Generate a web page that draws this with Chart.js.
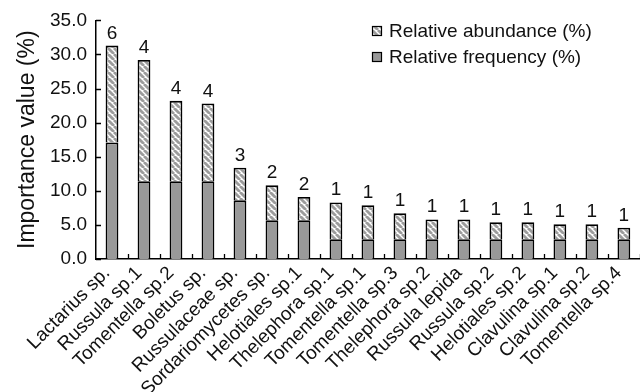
<!DOCTYPE html>
<html>
<head>
<meta charset="utf-8">
<script src="https://cdn.jsdelivr.net/npm/chart.js@4"></script>
<style>
  html, body { margin: 0; padding: 0; background: #fff; overflow: hidden; }
  #wrap { width: 643px; height: 392px; }
</style>
</head>
<body>
<div id="wrap"><canvas id="chart"></canvas></div>
<script>
const species = ['Lactarius sp.', 'Russula sp.1', 'Tomentella sp.2', 'Boletus sp.', 'Russulaceae sp.',
  'Sordariomycetes sp.', 'Helotiales sp.1', 'Thelephora sp.1', 'Tomentella sp.1', 'Tomentella sp.3',
  'Thelephora sp.2', 'Russula lepida', 'Russula sp.2', 'Helotiales sp.2', 'Clavulina sp.1',
  'Clavulina sp.2', 'Tomentella sp.4'];
const relFrequency = [17.1, 11.4, 11.4, 11.4, 8.6, 5.7, 5.7, 2.9, 2.9, 2.9, 2.9, 2.9, 2.9, 2.9, 2.9, 2.9, 2.9];
const relAbundance = [14.2, 17.8, 11.8, 11.4, 4.8, 5.1, 3.4, 5.4, 5.0, 3.8, 2.9, 2.9, 2.5, 2.5, 2.2, 2.2, 1.7];
const counts = [6, 4, 4, 4, 3, 2, 2, 1, 1, 1, 1, 1, 1, 1, 1, 1, 1];
const yTicks = [0, 5, 10, 15, 20, 25, 30, 35];

const FONT = 'Liberation Sans, Arial, Helvetica, sans-serif';
const GRAY = '#999999';

// diagonal hatch for the abundance part
function makeHatch() {
    const s = 6;
    const c = document.createElement('canvas');
    c.width = s; c.height = s;
    const g = c.getContext('2d');
    g.fillStyle = '#fff';
    g.fillRect(0, 0, s, s);
    g.strokeStyle = '#9c9c9c';
    g.lineWidth = 2.8;
    for (const x0 of [-s, 0, s]) {
        g.beginPath();
        g.moveTo(x0, 0);
        g.lineTo(x0 + s, s);
        g.stroke();
    }
    return g.createPattern(c, 'repeat');
}
const hatch = makeHatch();

// inward ticks, count labels and the legend
const extras = {
    id: 'extras',
    afterDraw(chart) {
        const ctx = chart.ctx;
        const x = chart.scales.x, y = chart.scales.y;
        ctx.save();
        ctx.strokeStyle = '#000';
        ctx.lineWidth = 1.3;
        ctx.beginPath();
        yTicks.forEach(v => {
            const py = Math.round(y.getPixelForValue(v)) + 0.5;
            ctx.moveTo(x.left, py);
            ctx.lineTo(x.left + 5, py);
        });
        for (let i = 0; i < species.length; i++) {
            const px = Math.round((x.getPixelForValue(i) + x.getPixelForValue(i + 1)) / 2) + 0.5;
            ctx.moveTo(px, y.bottom);
            ctx.lineTo(px, y.bottom - 5);
        }
        ctx.stroke();

        // counts above bars
        const meta = chart.getDatasetMeta(1);
        ctx.fillStyle = '#111';
        ctx.font = '19px ' + FONT;
        ctx.textAlign = 'center';
        ctx.textBaseline = 'alphabetic';
        meta.data.forEach((bar, i) => {
            ctx.fillText(String(counts[i]), bar.x, bar.y - 7);
        });

        // legend
        const items = [
            { label: 'Relative abundance (%)', fill: hatch },
            { label: 'Relative frequency (%)', fill: GRAY }
        ];
        ctx.font = '19px ' + FONT;
        ctx.textAlign = 'left';
        ctx.textBaseline = 'middle';
        items.forEach((it, k) => {
            const cy = 31 + k * 26;
            ctx.fillStyle = it.fill;
            ctx.fillRect(372, cy - 5, 10, 10);
            ctx.strokeStyle = '#000';
            ctx.lineWidth = 1.2;
            ctx.strokeRect(372.5, cy - 4.5, 9, 9);
            ctx.fillStyle = '#111';
            ctx.fillText(it.label, 389, cy + 1);
        });
        ctx.restore();
    }
};

new Chart(document.getElementById('chart'), {
    type: 'bar',
    data: {
        labels: species,
        datasets: [
            {
                label: 'Relative frequency (%)',
                data: relFrequency,
                backgroundColor: GRAY,
                borderColor: '#000',
                borderWidth: 1.8
            },
            {
                label: 'Relative abundance (%)',
                data: relAbundance,
                backgroundColor: hatch,
                borderColor: '#000',
                borderWidth: 1.8
            }
        ]
    },
    options: {
        responsive: true,
        maintainAspectRatio: false,
        animation: false,
        layout: { padding: { top: 17, right: 0, left: 0, bottom: 0 } },
        datasets: { bar: { barPercentage: 1, categoryPercentage: 0.4 } },
        scales: {
            x: {
                stacked: true,
                grid: { display: false, drawTicks: false },
                border: { display: true, color: '#000', width: 1.5 },
                ticks: {
                    autoSkip: false,
                    minRotation: 45,
                    maxRotation: 45,
                    padding: 3,
                    labelOffset: -5,
                    color: '#111',
                    font: { family: FONT, size: 19 }
                },
                afterFit: s => { s.height = 133; }
            },
            y: {
                stacked: true,
                min: 0,
                max: 35,
                grid: { display: false, drawTicks: false },
                border: { display: true, color: '#000', width: 1.5 },
                ticks: {
                    stepSize: 5,
                    padding: 9,
                    color: '#111',
                    font: { family: FONT, size: 19 }, 
                    callback: v => v.toFixed(1)
                },
                title: {
                    display: true,
                    text: 'Importance value (%)',
                    color: '#111',
                    font: { family: FONT, size: 23 },
                    padding: { top: 14, bottom: 0 }
                },
                afterFit: s => { s.width = 96; }
            }
        },
        plugins: {
            legend: { display: false },
            tooltip: { enabled: false }
        }
    },
    plugins: [extras]
});
</script>
</body>
</html>
